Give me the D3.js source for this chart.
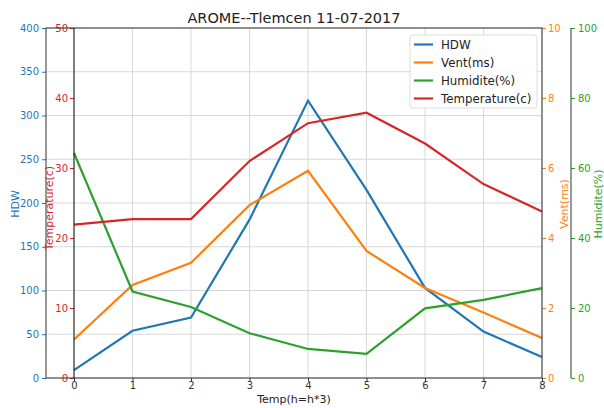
<!DOCTYPE html>
<html>
<head>
<meta charset="utf-8">
<script src="https://cdn.jsdelivr.net/npm/d3@7"></script>
<style>
  body { margin: 0; background: #fff; }
  text { font-family: "DejaVu Sans", sans-serif; }
</style>
</head>
<body>
<div id="chart"></div>
<script>
// data
const hours = [0, 1, 2, 3, 4, 5, 6, 7, 8];
const hdw = [9, 54, 69, 181, 317, 215, 103, 53, 24];
const vent = [1.1, 2.66, 3.29, 4.94, 5.92, 3.63, 2.57, 1.87, 1.14];
const humidite = [64.3, 24.7, 20.3, 12.8, 8.3, 6.9, 19.9, 22.3, 25.7];
const temperature = [21.9, 22.7, 22.7, 31, 36.4, 37.9, 33.5, 27.7, 23.8];

const hdwTicks = [0, 50, 100, 150, 200, 250, 300, 350, 400];
const tempTicks = [0, 10, 20, 30, 40, 50];
const ventTicks = [0, 2, 4, 6, 8, 10];
const humTicks = [0, 20, 40, 60, 80, 100];

const blue = "#1f77b4", orange = "#ff7f0e", green = "#2ca02c", red = "#d62728";

const width = 604, height = 408;
const plotLeft = 46, plotRight = 542, plotTop = 28, plotBottom = 378;
const tempX = 74, humX = 571;

const svg = d3.select("#chart").append("svg")
    .attr("width", width)
    .attr("height", height);

const x = d3.scaleLinear().domain([0, 8]).range([tempX, plotRight]);
const yHdw = d3.scaleLinear().domain([0, 400]).range([plotBottom, plotTop]);
const yTemp = d3.scaleLinear().domain([0, 50]).range([plotBottom, plotTop]);
const yVent = d3.scaleLinear().domain([0, 10]).range([plotBottom, plotTop]);
const yHum = d3.scaleLinear().domain([0, 100]).range([plotBottom, plotTop]);

// grid
const grid = svg.append("g").attr("stroke", "#d8d8d8").attr("stroke-width", 1);
hdwTicks.forEach(t => {
    grid.append("line").attr("x1", plotLeft).attr("x2", plotRight)
        .attr("y1", yHdw(t)).attr("y2", yHdw(t));
});
hours.forEach(t => {
    grid.append("line").attr("x1", x(t)).attr("x2", x(t))
        .attr("y1", plotTop).attr("y2", plotBottom);
});

// lines
const series = [
    { name: "HDW", values: hdw, y: yHdw, color: blue },
    { name: "Vent(ms)", values: vent, y: yVent, color: orange },
    { name: "Humidite(%)", values: humidite, y: yHum, color: green },
    { name: "Temperature(c)", values: temperature, y: yTemp, color: red }
];

series.forEach(s => {
    const line = d3.line().x((d, i) => x(hours[i])).y(d => s.y(d));
    svg.append("path")
        .datum(s.values)
        .attr("fill", "none")
        .attr("stroke", s.color)
        .attr("stroke-width", 2.2)
        .attr("d", line);
});

// axes
function styleAxis(g, color) {
    g.select(".domain").remove();
    g.selectAll(".tick line").attr("stroke", color);
    g.selectAll(".tick text").attr("fill", color).attr("font-size", 10)
        .attr("font-family", "DejaVu Sans, sans-serif");
}

svg.append("g").attr("transform", `translate(${plotLeft},0)`)
    .call(d3.axisLeft(yHdw).tickValues(hdwTicks).tickSize(4).tickPadding(3))
    .call(g => styleAxis(g, blue));

svg.append("g").attr("transform", `translate(${tempX},0)`)
    .call(d3.axisLeft(yTemp).tickValues(tempTicks).tickSize(4).tickPadding(2))
    .call(g => styleAxis(g, red));

svg.append("g").attr("transform", `translate(${plotRight},0)`)
    .call(d3.axisRight(yVent).tickValues(ventTicks).tickSize(4).tickPadding(2))
    .call(g => styleAxis(g, orange));

svg.append("g").attr("transform", `translate(${humX},0)`)
    .call(d3.axisRight(yHum).tickValues(humTicks).tickSize(4).tickPadding(3))
    .call(g => styleAxis(g, green));

svg.append("g").attr("transform", `translate(0,${plotBottom})`)
    .call(d3.axisBottom(x).tickValues(hours).tickFormat(d3.format("d")).tickSize(3).tickPadding(1))
    .call(g => styleAxis(g, "#333"));

// spines
const spines = svg.append("g").attr("stroke", "#333").attr("stroke-width", 1).attr("fill", "none");
spines.append("rect").attr("x", plotLeft).attr("y", plotTop)
    .attr("width", plotRight - plotLeft).attr("height", plotBottom - plotTop);
spines.append("line").attr("x1", tempX).attr("x2", tempX)
    .attr("y1", plotTop).attr("y2", plotBottom).attr("stroke", "#111");
spines.append("line").attr("x1", humX).attr("x2", humX)
    .attr("y1", plotTop).attr("y2", plotBottom);

// title and labels
svg.append("text").attr("x", (plotLeft + plotRight) / 2).attr("y", 23)
    .attr("text-anchor", "middle").attr("font-size", 14.5).attr("fill", "#222")
    .text("AROME--Tlemcen 11-07-2017");

svg.append("text").attr("x", (plotLeft + plotRight) / 2).attr("y", 403)
    .attr("text-anchor", "middle").attr("font-size", 11).attr("fill", "#222")
    .text("Temp(h=h*3)");

function yLabel(txt, cx, cy, color) {
    svg.append("text")
        .attr("transform", `translate(${cx},${cy}) rotate(-90)`)
        .attr("text-anchor", "middle").attr("dominant-baseline", "central")
        .attr("font-size", 11).attr("fill", color)
        .text(txt);
}
yLabel("HDW", 15, 204, blue);
yLabel("Temperature(c)", 49, 208, red);
yLabel("Vent(ms)", 564, 204, orange);
yLabel("Humidite(%)", 598, 204, green);

// legend
const legend = svg.append("g").attr("transform", "translate(410,35)");
legend.append("rect").attr("width", 127).attr("height", 73).attr("rx", 3)
    .attr("fill", "#fff").attr("fill-opacity", 0.9).attr("stroke", "#ddd");
series.forEach((s, i) => {
    const gy = 9.5 + i * 18;
    legend.append("line").attr("x1", 4).attr("x2", 23).attr("y1", gy).attr("y2", gy)
        .attr("stroke", s.color).attr("stroke-width", 2.2);
    legend.append("text").attr("x", 31).attr("y", gy).attr("dominant-baseline", "central")
        .attr("font-size", 11.8).attr("fill", "#222").text(s.name);
});
</script>
</body>
</html>
